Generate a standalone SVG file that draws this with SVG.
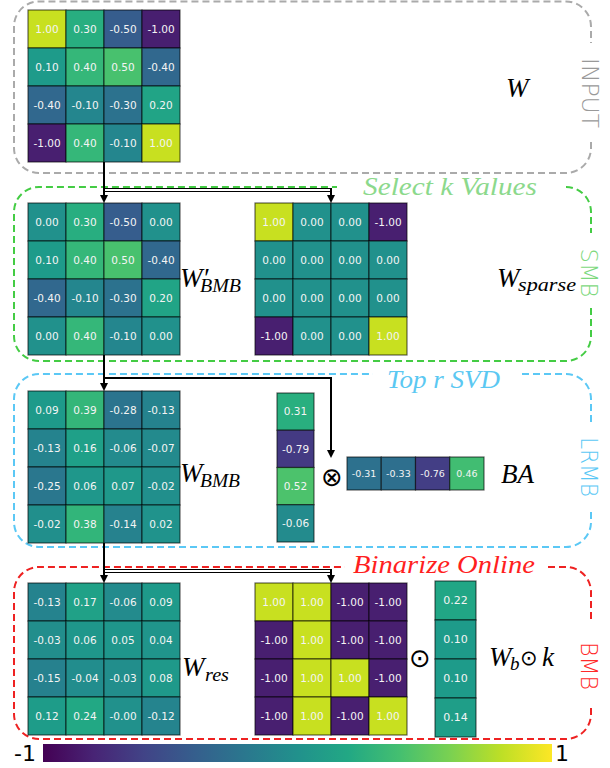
<svg xmlns="http://www.w3.org/2000/svg" width="610" height="768" viewBox="0 0 610 768">
<style>
.mat rect{stroke:#000;stroke-opacity:.6;stroke-width:1.2}
.mat text{font-family:"DejaVu Sans",sans-serif;font-size:10.5px;fill:#f4f4f4;text-anchor:middle}
.sm text{font-size:9.5px}
.kk text{font-size:11px}
.box{fill:none;stroke-width:2;stroke-dasharray:7 4}
.m{font-family:"Liberation Serif","DejaVu Serif",serif;font-style:italic;font-size:27px;fill:#000}
.ms{font-family:"Liberation Serif","DejaVu Serif",serif;font-style:italic;font-size:19px;fill:#000}
.ttl{font-family:"Liberation Serif","DejaVu Serif",serif;font-style:italic;font-size:25px}
.side{font-family:"DejaVu Sans",sans-serif;font-weight:200;font-size:23px;text-anchor:middle}
.op{font-family:"DejaVu Sans",sans-serif;font-size:26px;text-anchor:middle;fill:#000}
.cb{font-family:"DejaVu Sans",sans-serif;font-size:22px;fill:#000}
</style>
<defs>
<marker id="ah" markerUnits="userSpaceOnUse" markerWidth="9" markerHeight="9" refX="0" refY="4" orient="auto" overflow="visible"><path d="M0,0 L8,4 L0,8 Z" fill="#000"/></marker>
<linearGradient id="viridis" x1="0" y1="0" x2="1" y2="0">
<stop offset="0" stop-color="#440154"/><stop offset="0.1" stop-color="#482475"/><stop offset="0.2" stop-color="#414487"/><stop offset="0.3" stop-color="#355f8d"/><stop offset="0.4" stop-color="#2a788e"/><stop offset="0.5" stop-color="#21918c"/><stop offset="0.6" stop-color="#22a884"/><stop offset="0.7" stop-color="#44bf70"/><stop offset="0.8" stop-color="#7ad151"/><stop offset="0.9" stop-color="#bddf26"/><stop offset="1" stop-color="#fde725"/>
</linearGradient>
</defs>
<rect width="610" height="768" fill="#fff"/>

<!-- section boxes -->
<g id="box-input">
<path class="box" stroke="#aaaaaa" d="M591,142 V148 A25,25 0 0 1 566,173 H39 A25,25 0 0 1 14,148 V26.5 A25,25 0 0 1 39,1.5 H566 A25,25 0 0 1 591,26.5 V43"/>
<text class="side" fill="#999999" transform="translate(590,93) rotate(90)" y="8.4" textLength="70" lengthAdjust="spacingAndGlyphs">INPUT</text>
</g>
<g id="box-smb">
<path class="box" stroke="#44cc44" d="M591,308 V336 A25,25 0 0 1 566,361 H39 A25,25 0 0 1 14,336 V212 A25,25 0 0 1 39,187 H337"/>
<path class="box" stroke="#44cc44" d="M566,187 A25,25 0 0 1 591,212 V233"/>
<text class="ttl" fill="#8cd98c" x="363" y="195" textLength="174" lengthAdjust="spacingAndGlyphs">Select k Values</text>
<text class="side" fill="#7dd87d" transform="translate(589,273) rotate(90)" y="8.4" textLength="49" lengthAdjust="spacingAndGlyphs">SMB</text>
</g>
<g id="box-lrmb">
<path class="box" stroke="#5bc8f5" d="M591,512 V522 A25,25 0 0 1 566,547 H39 A25,25 0 0 1 14,522 V399 A25,25 0 0 1 39,374 H373"/>
<path class="box" stroke="#5bc8f5" d="M522,374 H566 A25,25 0 0 1 591,399 V422"/>
<text class="ttl" fill="#5bc8f2" x="387" y="388" textLength="113" lengthAdjust="spacingAndGlyphs">Top r SVD</text>
<text class="side" fill="#5bc8f5" transform="translate(589,467) rotate(90)" y="8.4" textLength="60" lengthAdjust="spacingAndGlyphs">LRMB</text>
</g>
<g id="box-bmb">
<path class="box" stroke="#ee2222" d="M591,708 V714 A25,25 0 0 1 566,739 H39 A25,25 0 0 1 14,714 V592 A25,25 0 0 1 39,567 H345"/>
<path class="box" stroke="#ee2222" d="M548,567 H566 A25,25 0 0 1 591,592 V620"/>
<text class="ttl" fill="#ff1f1f" x="353" y="573" textLength="182" lengthAdjust="spacingAndGlyphs">Binarize Online</text>
<text class="side" fill="#ff2a2a" transform="translate(589,666) rotate(90)" y="8.4" textLength="48" lengthAdjust="spacingAndGlyphs">BMB</text>
</g>

<!-- connectors -->
<g id="connectors" fill="none" stroke="#000" stroke-width="2">
<path d="M104,162 V195" marker-end="url(#ah)"/>
<path d="M104,188.5 H332" stroke-width="1.2"/>
<path d="M104,191.5 H330" stroke-width="1.2"/>
<path d="M331,188 V195" marker-end="url(#ah)"/>
<path d="M104,355 V383" marker-end="url(#ah)"/>
<path d="M104,378 H331 V450" marker-end="url(#ah)"/>
<path d="M104,543 V575" marker-end="url(#ah)"/>
<path d="M104,569.5 H332" stroke-width="1.2"/>
<path d="M104,572.5 H330" stroke-width="1.2"/>
<path d="M331,569 V575" marker-end="url(#ah)"/>
</g>

<!-- INPUT W -->
<g id="mat-W" class="mat" transform="translate(28,10)">
<rect x="0" y="0" width="38" height="38" fill="#c8e020"/><text x="19" y="22.7">1.00</text>
<rect x="38" y="0" width="38" height="38" fill="#28ae80"/><text x="57" y="22.7">0.30</text>
<rect x="76" y="0" width="38" height="38" fill="#365d8d"/><text x="95" y="22.7">-0.50</text>
<rect x="114" y="0" width="38" height="38" fill="#481f70"/><text x="133" y="22.7">-1.00</text>
<rect x="0" y="38" width="38" height="38" fill="#1e9b8a"/><text x="19" y="60.7">0.10</text>
<rect x="38" y="38" width="38" height="38" fill="#35b779"/><text x="57" y="60.7">0.40</text>
<rect x="76" y="38" width="38" height="38" fill="#48c16e"/><text x="95" y="60.7">0.50</text>
<rect x="114" y="38" width="38" height="38" fill="#31688e"/><text x="133" y="60.7">-0.40</text>
<rect x="0" y="76" width="38" height="38" fill="#31688e"/><text x="19" y="98.7">-0.40</text>
<rect x="38" y="76" width="38" height="38" fill="#24868e"/><text x="57" y="98.7">-0.10</text>
<rect x="76" y="76" width="38" height="38" fill="#2c728e"/><text x="95" y="98.7">-0.30</text>
<rect x="114" y="76" width="38" height="38" fill="#21a486"/><text x="133" y="98.7">0.20</text>
<rect x="0" y="114" width="38" height="38" fill="#481f70"/><text x="19" y="136.7">-1.00</text>
<rect x="38" y="114" width="38" height="38" fill="#35b779"/><text x="57" y="136.7">0.40</text>
<rect x="76" y="114" width="38" height="38" fill="#24868e"/><text x="95" y="136.7">-0.10</text>
<rect x="114" y="114" width="38" height="38" fill="#c8e020"/><text x="133" y="136.7">1.00</text>
</g>
<g id="label-W"><text class="m" x="506" y="97">W</text></g>

<!-- SMB W'_BMB -->
<g id="mat-Wp-BMB" class="mat" transform="translate(28,203)">
<rect x="0" y="0" width="38" height="38" fill="#21918c"/><text x="19" y="22.7">0.00</text>
<rect x="38" y="0" width="38" height="38" fill="#28ae80"/><text x="57" y="22.7">0.30</text>
<rect x="76" y="0" width="38" height="38" fill="#365d8d"/><text x="95" y="22.7">-0.50</text>
<rect x="114" y="0" width="38" height="38" fill="#21918c"/><text x="133" y="22.7">0.00</text>
<rect x="0" y="38" width="38" height="38" fill="#1e9b8a"/><text x="19" y="60.7">0.10</text>
<rect x="38" y="38" width="38" height="38" fill="#35b779"/><text x="57" y="60.7">0.40</text>
<rect x="76" y="38" width="38" height="38" fill="#48c16e"/><text x="95" y="60.7">0.50</text>
<rect x="114" y="38" width="38" height="38" fill="#31688e"/><text x="133" y="60.7">-0.40</text>
<rect x="0" y="76" width="38" height="38" fill="#31688e"/><text x="19" y="98.7">-0.40</text>
<rect x="38" y="76" width="38" height="38" fill="#24868e"/><text x="57" y="98.7">-0.10</text>
<rect x="76" y="76" width="38" height="38" fill="#2c728e"/><text x="95" y="98.7">-0.30</text>
<rect x="114" y="76" width="38" height="38" fill="#21a486"/><text x="133" y="98.7">0.20</text>
<rect x="0" y="114" width="38" height="38" fill="#21918c"/><text x="19" y="136.7">0.00</text>
<rect x="38" y="114" width="38" height="38" fill="#35b779"/><text x="57" y="136.7">0.40</text>
<rect x="76" y="114" width="38" height="38" fill="#24868e"/><text x="95" y="136.7">-0.10</text>
<rect x="114" y="114" width="38" height="38" fill="#21918c"/><text x="133" y="136.7">0.00</text>
</g>
<g id="label-Wp-BMB"><text class="m" x="180" y="287">W′<tspan class="ms" x="200" y="292" textLength="41" lengthAdjust="spacingAndGlyphs">BMB</tspan></text></g>

<!-- SMB W_sparse -->
<g id="mat-W-sparse" class="mat" transform="translate(255,203)">
<rect x="0" y="0" width="38" height="38" fill="#c8e020"/><text x="19" y="22.7">1.00</text>
<rect x="38" y="0" width="38" height="38" fill="#21918c"/><text x="57" y="22.7">0.00</text>
<rect x="76" y="0" width="38" height="38" fill="#21918c"/><text x="95" y="22.7">0.00</text>
<rect x="114" y="0" width="38" height="38" fill="#481f70"/><text x="133" y="22.7">-1.00</text>
<rect x="0" y="38" width="38" height="38" fill="#21918c"/><text x="19" y="60.7">0.00</text>
<rect x="38" y="38" width="38" height="38" fill="#21918c"/><text x="57" y="60.7">0.00</text>
<rect x="76" y="38" width="38" height="38" fill="#21918c"/><text x="95" y="60.7">0.00</text>
<rect x="114" y="38" width="38" height="38" fill="#21918c"/><text x="133" y="60.7">0.00</text>
<rect x="0" y="76" width="38" height="38" fill="#21918c"/><text x="19" y="98.7">0.00</text>
<rect x="38" y="76" width="38" height="38" fill="#21918c"/><text x="57" y="98.7">0.00</text>
<rect x="76" y="76" width="38" height="38" fill="#21918c"/><text x="95" y="98.7">0.00</text>
<rect x="114" y="76" width="38" height="38" fill="#21918c"/><text x="133" y="98.7">0.00</text>
<rect x="0" y="114" width="38" height="38" fill="#481f70"/><text x="19" y="136.7">-1.00</text>
<rect x="38" y="114" width="38" height="38" fill="#21918c"/><text x="57" y="136.7">0.00</text>
<rect x="76" y="114" width="38" height="38" fill="#21918c"/><text x="95" y="136.7">0.00</text>
<rect x="114" y="114" width="38" height="38" fill="#c8e020"/><text x="133" y="136.7">1.00</text>
</g>
<g id="label-W-sparse"><text class="m" x="497" y="287">W<tspan class="ms" x="518" y="291" textLength="58" lengthAdjust="spacingAndGlyphs">sparse</tspan></text></g>

<!-- LRMB W_BMB -->
<g id="mat-W-BMB" class="mat" transform="translate(28,391)">
<rect x="0" y="0" width="38" height="38" fill="#1e9a8a"/><text x="19" y="22.7">0.09</text>
<rect x="38" y="0" width="38" height="38" fill="#34b679"/><text x="57" y="22.7">0.39</text>
<rect x="76" y="0" width="38" height="38" fill="#2b748e"/><text x="95" y="22.7">-0.28</text>
<rect x="114" y="0" width="38" height="38" fill="#25838e"/><text x="133" y="22.7">-0.13</text>
<rect x="0" y="38" width="38" height="38" fill="#25838e"/><text x="19" y="60.7">-0.13</text>
<rect x="38" y="38" width="38" height="38" fill="#1fa088"/><text x="57" y="60.7">0.16</text>
<rect x="76" y="38" width="38" height="38" fill="#238b8d"/><text x="95" y="60.7">-0.06</text>
<rect x="114" y="38" width="38" height="38" fill="#238a8d"/><text x="133" y="60.7">-0.07</text>
<rect x="0" y="76" width="38" height="38" fill="#2a778e"/><text x="19" y="98.7">-0.25</text>
<rect x="38" y="76" width="38" height="38" fill="#1f978b"/><text x="57" y="98.7">0.06</text>
<rect x="76" y="76" width="38" height="38" fill="#1f988a"/><text x="95" y="98.7">0.07</text>
<rect x="114" y="76" width="38" height="38" fill="#218f8c"/><text x="133" y="98.7">-0.02</text>
<rect x="0" y="114" width="38" height="38" fill="#218f8c"/><text x="19" y="136.7">-0.02</text>
<rect x="38" y="114" width="38" height="38" fill="#32b57a"/><text x="57" y="136.7">0.38</text>
<rect x="76" y="114" width="38" height="38" fill="#26828e"/><text x="95" y="136.7">-0.14</text>
<rect x="114" y="114" width="38" height="38" fill="#20938c"/><text x="133" y="136.7">0.02</text>
</g>
<g id="label-W-BMB"><text class="m" x="180" y="482">W<tspan class="ms" x="200" y="487" textLength="40" lengthAdjust="spacingAndGlyphs">BMB</tspan></text></g>

<!-- LRMB B -->
<g id="mat-B" class="mat" transform="translate(277,393)">
<rect x="0" y="0" width="37" height="37.25" fill="#29af7f"/><text x="18.5" y="22.3">0.31</text>
<rect x="0" y="37.25" width="37" height="37.25" fill="#443a83"/><text x="18.5" y="59.5">-0.79</text>
<rect x="0" y="74.5" width="37" height="37.25" fill="#4cc26c"/><text x="18.5" y="96.8">0.52</text>
<rect x="0" y="111.75" width="37" height="37.25" fill="#238b8d"/><text x="18.5" y="134">-0.06</text>
</g>
<g id="op-otimes"><text class="op" x="332" y="486">⊗</text></g>
<!-- LRMB A -->
<g id="mat-A" class="mat sm" transform="translate(347,457)">
<rect x="0" y="0" width="34.25" height="33" fill="#2d718e"/><text x="17.1" y="19.8">-0.31</text>
<rect x="34.25" y="0" width="34.25" height="33" fill="#2e6f8e"/><text x="51.4" y="19.8">-0.33</text>
<rect x="68.5" y="0" width="34.25" height="33" fill="#433e85"/><text x="85.6" y="19.8">-0.76</text>
<rect x="102.75" y="0" width="34.25" height="33" fill="#41bd72"/><text x="119.9" y="19.8">0.46</text>
</g>
<g id="label-BA"><text class="m" x="501" y="483">BA</text></g>

<!-- BMB W_res -->
<g id="mat-W-res" class="mat" transform="translate(28,583)">
<rect x="0" y="0" width="38" height="38" fill="#25838e"/><text x="19" y="22.7">-0.13</text>
<rect x="38" y="0" width="38" height="38" fill="#20a187"/><text x="57" y="22.7">0.17</text>
<rect x="76" y="0" width="38" height="38" fill="#238b8d"/><text x="95" y="22.7">-0.06</text>
<rect x="114" y="0" width="38" height="38" fill="#1e9a8a"/><text x="133" y="22.7">0.09</text>
<rect x="0" y="38" width="38" height="38" fill="#228e8c"/><text x="19" y="60.7">-0.03</text>
<rect x="38" y="38" width="38" height="38" fill="#1f978b"/><text x="57" y="60.7">0.06</text>
<rect x="76" y="38" width="38" height="38" fill="#1f968b"/><text x="95" y="60.7">0.05</text>
<rect x="114" y="38" width="38" height="38" fill="#20958b"/><text x="133" y="60.7">0.04</text>
<rect x="0" y="76" width="38" height="38" fill="#26818e"/><text x="19" y="98.7">-0.15</text>
<rect x="38" y="76" width="38" height="38" fill="#228d8d"/><text x="57" y="98.7">-0.04</text>
<rect x="76" y="76" width="38" height="38" fill="#228e8c"/><text x="95" y="98.7">-0.03</text>
<rect x="114" y="76" width="38" height="38" fill="#1f998a"/><text x="133" y="98.7">0.08</text>
<rect x="0" y="114" width="38" height="38" fill="#1e9c89"/><text x="19" y="136.7">0.12</text>
<rect x="38" y="114" width="38" height="38" fill="#22a884"/><text x="57" y="136.7">0.24</text>
<rect x="76" y="114" width="38" height="38" fill="#21918c"/><text x="95" y="136.7">-0.00</text>
<rect x="114" y="114" width="38" height="38" fill="#25848e"/><text x="133" y="136.7">-0.12</text>
</g>
<g id="label-W-res"><text class="m" x="182" y="676">W<tspan class="ms" x="205" y="681" textLength="24" lengthAdjust="spacingAndGlyphs">res</tspan></text></g>

<!-- BMB W_b -->
<g id="mat-W-b" class="mat" transform="translate(255,583)">
<rect x="0" y="0" width="38" height="38" fill="#c8e020"/><text x="19" y="22.7">1.00</text>
<rect x="38" y="0" width="38" height="38" fill="#c8e020"/><text x="57" y="22.7">1.00</text>
<rect x="76" y="0" width="38" height="38" fill="#481f70"/><text x="95" y="22.7">-1.00</text>
<rect x="114" y="0" width="38" height="38" fill="#481f70"/><text x="133" y="22.7">-1.00</text>
<rect x="0" y="38" width="38" height="38" fill="#481f70"/><text x="19" y="60.7">-1.00</text>
<rect x="38" y="38" width="38" height="38" fill="#c8e020"/><text x="57" y="60.7">1.00</text>
<rect x="76" y="38" width="38" height="38" fill="#481f70"/><text x="95" y="60.7">-1.00</text>
<rect x="114" y="38" width="38" height="38" fill="#481f70"/><text x="133" y="60.7">-1.00</text>
<rect x="0" y="76" width="38" height="38" fill="#481f70"/><text x="19" y="98.7">-1.00</text>
<rect x="38" y="76" width="38" height="38" fill="#c8e020"/><text x="57" y="98.7">1.00</text>
<rect x="76" y="76" width="38" height="38" fill="#c8e020"/><text x="95" y="98.7">1.00</text>
<rect x="114" y="76" width="38" height="38" fill="#481f70"/><text x="133" y="98.7">-1.00</text>
<rect x="0" y="114" width="38" height="38" fill="#481f70"/><text x="19" y="136.7">-1.00</text>
<rect x="38" y="114" width="38" height="38" fill="#c8e020"/><text x="57" y="136.7">1.00</text>
<rect x="76" y="114" width="38" height="38" fill="#481f70"/><text x="95" y="136.7">-1.00</text>
<rect x="114" y="114" width="38" height="38" fill="#c8e020"/><text x="133" y="136.7">1.00</text>
</g>
<g id="op-odot"><text class="op" x="420" y="667">⊙</text></g>
<!-- BMB k -->
<g id="mat-k" class="mat kk" transform="translate(435,581)">
<rect x="0" y="0" width="41" height="39" fill="#21a685"/><text x="20.5" y="23.4">0.22</text>
<rect x="0" y="39" width="41" height="39" fill="#1e9b8a"/><text x="20.5" y="62.4">0.10</text>
<rect x="0" y="78" width="41" height="39" fill="#1e9b8a"/><text x="20.5" y="101.4">0.10</text>
<rect x="0" y="117" width="41" height="39" fill="#1f9e88"/><text x="20.5" y="140.4">0.14</text>
</g>
<g id="label-Wb-k"><text class="m" x="489" y="666" font-size="24">W<tspan class="ms" x="510" y="670" font-size="17">b</tspan><tspan font-family="DejaVu Sans, sans-serif" font-style="normal" font-size="21" x="520" y="665">⊙</tspan><tspan x="542" y="666">k</tspan></text></g>

<!-- colorbar -->
<g id="colorbar">
<rect x="43" y="744" width="509" height="18" fill="url(#viridis)"/>
<text class="cb" x="14" y="761">-1</text>
<text class="cb" x="555" y="761">1</text>
</g>
</svg>
